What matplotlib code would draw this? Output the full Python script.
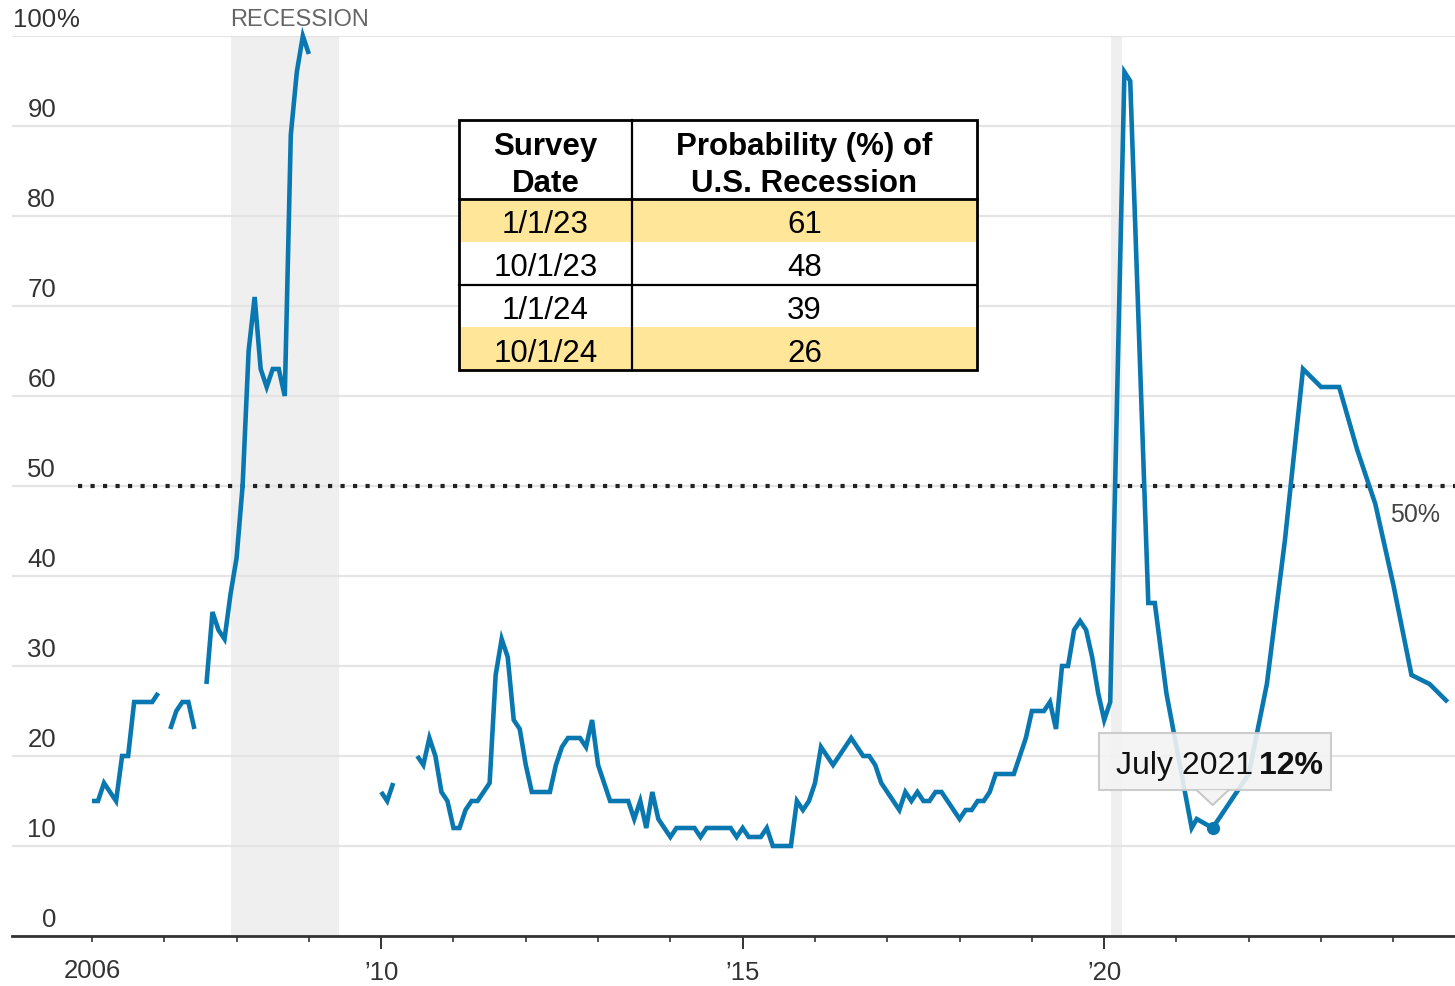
import numpy as np
import matplotlib.pyplot as plt
from matplotlib.patches import Rectangle, Polygon
from matplotlib.transforms import blended_transform_factory

plt.rcParams['font.family'] = ['Liberation Sans', 'DejaVu Sans']
narrow = ['Liberation Sans Narrow', 'Liberation Sans', 'DejaVu Sans']

nan = np.nan

# monthly survey readings, Jan 2006 .. Feb 2020 (nan = no reading)
monthly_start = 2006
monthly_prob = [
    15, 15, 17, 16, 15, 20, 20, 26, 26, 26, 26, 27,    # 2006
    nan, 23, 25, 26, 26, 23, nan, 28, 36, 34, 33, 38,  # 2007
    42, 50, 65, 71, 63, 61, 63, 63, 60, 89, 96, 100,   # 2008
    98, nan, nan, nan, nan, nan, nan, nan, nan, nan, nan, nan,  # 2009
    16, 15, 17, nan, nan, nan, 20, 19, 22, 20, 16, 15,  # 2010
    12, 12, 14, 15, 15, 16, 17, 29, 33, 31, 24, 23,    # 2011
    19, 16, 16, 16, 16, 19, 21, 22, 22, 22, 21, 24,    # 2012
    19, 17, 15, 15, 15, 15, 13, 15, 12, 16, 13, 12,    # 2013
    11, 12, 12, 12, 12, 11, 12, 12, 12, 12, 12, 11,    # 2014
    12, 11, 11, 11, 12, 10, 10, 10, 10, 15, 14, 15,    # 2015
    17, 21, 20, 19, 20, 21, 22, 21, 20, 20, 19, 17,    # 2016
    16, 15, 14, 16, 15, 16, 15, 15, 16, 16, 15, 14,    # 2017
    13, 14, 14, 15, 15, 16, 18, 18, 18, 18, 20, 22,    # 2018
    25, 25, 25, 26, 23, 30, 30, 34, 35, 34, 31, 27,    # 2019
    24, 26,                                            # 2020
]

# later, irregular / quarterly surveys (decimal years)
recent_dates = [2020.28, 2020.36, 2020.61, 2020.70, 2020.86, 2021.21, 2021.28,
                2021.5, 2021.75, 2022.0, 2022.25, 2022.5, 2022.75, 2023.0,
                2023.25, 2023.5, 2023.75, 2024.0, 2024.25, 2024.5, 2024.75]
recent_prob = [96, 95, 37, 37, 27, 12, 13, 12, 15, 18, 28, 44, 63, 61,
               61, 54, 48, 39, 29, 28, 26]

recessions = [(2007.917, 2009.417), (2020.1, 2020.25)]
highlight = (2021.5, 12, 'July 2021', '12%')

table_header = [['Survey', 'Date'], ['Probability (%) of', 'U.S. Recession']]
table_dates = ['1/1/23', '10/1/23', '1/1/24', '10/1/24']
table_probs = [61, 48, 39, 26]
table_shaded = [True, False, False, True]

x_all = [monthly_start + i / 12 for i in range(len(monthly_prob))] + recent_dates
y_all = monthly_prob + recent_prob

blue = '#0a78b0'
ink = '#333333'

fig = plt.figure(figsize=(14.55, 9.87), dpi=100)
ax = fig.add_axes([12 / 1455, 50 / 987, 1443 / 1455, 900 / 987])
ax.set_xlim(2004.894, 2024.852)
ax.set_ylim(0, 100)

for a, b in recessions:
    ax.axvspan(a, b, color='#efefef', lw=0, zorder=0)

ax.set_yticks(range(0, 101, 10))
ax.yaxis.grid(True, color='#e4e4e4', lw=1.6, zorder=1)
ax.tick_params(axis='y', length=0, labelleft=False)

for s in ['left', 'right', 'top']:
    ax.spines[s].set_visible(False)
ax.spines['bottom'].set_color(ink)
ax.spines['bottom'].set_linewidth(2)
ax.spines['bottom'].set_zorder(5)

years = list(range(2006, 2025))
ax.set_xticks([2010, 2015, 2020])
ax.set_xticklabels(['\u201910', '\u201915', '\u201920'])
ax.set_xticks(years, minor=True)
ax.set_xticklabels(['2006' if y == 2006 else '' for y in years], minor=True)
ax.tick_params(axis='x', which='major', length=9, width=1.4, color=ink,
               labelsize=18.5, labelcolor=ink, pad=8)
ax.tick_params(axis='x', which='minor', length=4.5, width=1.2, color=ink,
               labelsize=18.5, labelcolor=ink, pad=11.5)

blend = blended_transform_factory(ax.transAxes, ax.transData)
for v in range(0, 101, 10):
    ax.text(0.0305, v + 0.6, str(v), transform=blend, ha='right', va='bottom',
            fontsize=18.5, color=ink)
ax.text(0.0305, 100.6, '%', transform=blend, ha='left', va='bottom',
        fontsize=18.5, color=ink, clip_on=False)

ax.text(recessions[0][0], 100.7, 'RECESSION', ha='left', va='bottom',
        fontsize=17, color='#666666', family=narrow, clip_on=False)

ax.hlines(50, 2005.81, 2024.852, colors='#222222', lw=3,
          linestyles=(0, (1, 2)), zorder=2)
ax.text(0.9896, 48.2, '50%', transform=blend, ha='right', va='top',
        fontsize=18, color='#444444', family=narrow)

ax.plot(x_all, y_all, color=blue, lw=3.3, solid_capstyle='butt',
        solid_joinstyle='miter', clip_on=False, zorder=4)
ax.plot(highlight[0], highlight[1], 'o', color=blue, ms=8.5, zorder=4)

# overlay in pixel coordinates (y downwards) for table and tooltip
ov = fig.add_axes([0, 0, 1, 1])
ov.set_xlim(0, 1455)
ov.set_ylim(987, 0)
ov.axis('off')
ov.set_zorder(10)

# tooltip anchored on the highlighted point
px, py = ov.transData.inverted().transform(
    ax.transData.transform((highlight[0], highlight[1])))
box = Rectangle((px - 113.5, py - 95), 232, 57, facecolor='#f3f3f3',
                edgecolor='#c8c8c8', lw=1.5, alpha=0.9)
ov.add_patch(box)
tri = Polygon([(px - 15, py - 38), (px + 15, py - 38), (px, py - 23)],
              closed=True, facecolor='#f3f3f3', edgecolor='none', alpha=0.9)
ov.add_patch(tri)
ov.plot([px - 15, px, px + 15], [py - 37, py - 23, py - 37],
        color='#c8c8c8', lw=1.5)
ov.text(px + 40, py - 63, highlight[2], ha='right', va='center',
        fontsize=23, color='#111111')
ov.text(px + 46, py - 63, highlight[3], ha='left', va='center',
        fontsize=23, color='#111111', fontweight='bold')

# table
tx0, tx1, tx2 = 459, 632, 977
ty0, ty1 = 121, 200
rh = (371 - 200) / 4
ov.add_patch(Rectangle((tx0, ty0), tx2 - tx0, 371 - ty0, facecolor='white',
                       edgecolor='none'))
for i, shaded in enumerate(table_shaded):
    if shaded:
        ov.add_patch(Rectangle((tx0, ty1 + i * rh), tx2 - tx0, rh,
                               facecolor='#ffe699', edgecolor='none'))
ov.add_patch(Rectangle((tx0, ty0), tx2 - tx0, 371 - ty0, facecolor='none',
                       edgecolor='black', lw=2))
ov.plot([tx0, tx2], [ty1, ty1], color='black', lw=2)
ov.plot([tx0, tx2], [ty1 + 2 * rh, ty1 + 2 * rh], color='black', lw=1.6)
ov.plot([tx1, tx1], [ty0, 371], color='black', lw=1.6)

for col, lines in enumerate(table_header):
    cx = (tx0 + tx1) / 2 if col == 0 else (tx1 + tx2) / 2
    for k, line in enumerate(lines):
        ov.text(cx, 147 + 37 * k, line, ha='center', va='center',
                fontsize=22.5, fontweight='bold', color='black')

for i, (d, p) in enumerate(zip(table_dates, table_probs)):
    cy = ty1 + (i + 0.5) * rh + 4
    ov.text((tx0 + tx1) / 2, cy, d, ha='center', va='center', fontsize=22.5,
            color='black')
    ov.text((tx1 + tx2) / 2, cy, str(p), ha='center', va='center',
            fontsize=22.5, color='black')

fig.savefig('out.png', dpi=100)
